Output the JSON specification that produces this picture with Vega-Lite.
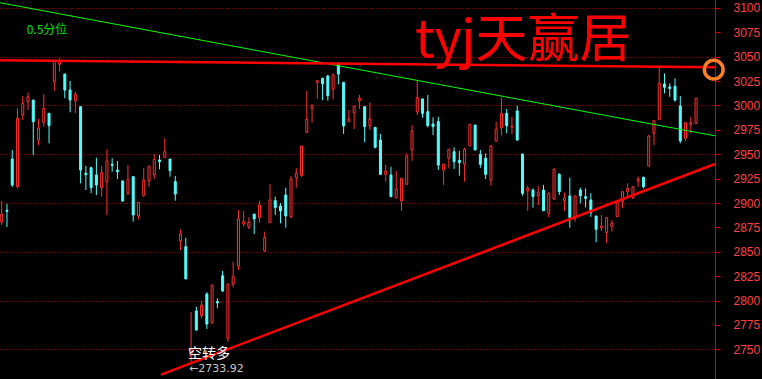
{
  "$schema": "https://vega.github.io/schema/vega-lite/v6.json",
  "width": 715,
  "height": 379,
  "autosize": {"type": "none"},
  "padding": {"left": 0, "top": 0, "right": 47, "bottom": 0},
  "background": "#000000",
  "config": {"view": {"stroke": null}},
  "resolve": {"axis": {"y": "independent"}},
  "datasets": {
    "k": [
      {"i":1,"o":2880.5,"h":2902.1,"l":2877.4,"c":2888.7},
      {"i":2,"o":2892.5,"h":2899.0,"l":2875.4,"c":2891.5},
      {"i":3,"o":2945.1,"h":2954.4,"l":2916.4,"c":2918.5},
      {"i":4,"o":2916.7,"h":2997.1,"l":2915.7,"c":2986.9},
      {"i":5,"o":2990.3,"h":3009.7,"l":2985.1,"c":3002.3},
      {"i":6,"o":3003.9,"h":3013.1,"l":2995.4,"c":3009.0},
      {"i":7,"o":3005.6,"h":3005.6,"l":2949.2,"c":2983.4},
      {"i":8,"o":2964.6,"h":2986.2,"l":2959.5,"c":2976.6},
      {"i":9,"o":2982.8,"h":3011.5,"l":2978.3,"c":2997.1},
      {"i":10,"o":2992.0,"h":2992.0,"l":2961.2,"c":2979.3},
      {"i":11,"o":3024.4,"h":3046.7,"l":3014.9,"c":3045.6},
      {"i":12,"o":3042.3,"h":3048.4,"l":3034.7,"c":3045.6},
      {"i":13,"o":3032.3,"h":3032.3,"l":3007.4,"c":3015.9},
      {"i":14,"o":3015.9,"h":3025.1,"l":2993.0,"c":3005.6},
      {"i":15,"o":3004.9,"h":3014.2,"l":2992.0,"c":3011.5},
      {"i":16,"o":2998.8,"h":2998.8,"l":2920.2,"c":2933.8},
      {"i":17,"o":2930.5,"h":2937.9,"l":2913.3,"c":2929.0},
      {"i":18,"o":2936.2,"h":2937.2,"l":2909.9,"c":2915.7},
      {"i":19,"o":2928.7,"h":2946.5,"l":2908.2,"c":2918.5},
      {"i":20,"o":2915.7,"h":2937.9,"l":2906.5,"c":2931.1},
      {"i":21,"o":2921.8,"h":2955.1,"l":2887.7,"c":2943.1},
      {"i":22,"o":2939.6,"h":2945.9,"l":2932.1,"c":2938.6},
      {"i":23,"o":2933.8,"h":2943.1,"l":2924.6,"c":2932.1},
      {"i":24,"o":2922.6,"h":2923.0,"l":2901.0,"c":2902.1},
      {"i":25,"o":2909.9,"h":2939.0,"l":2908.2,"c":2924.3},
      {"i":26,"o":2927.0,"h":2927.7,"l":2880.8,"c":2887.7},
      {"i":27,"o":2886.7,"h":2901.0,"l":2883.3,"c":2900.7},
      {"i":28,"o":2907.5,"h":2935.6,"l":2906.5,"c":2923.6},
      {"i":29,"o":2922.9,"h":2937.9,"l":2916.7,"c":2937.9},
      {"i":30,"o":2928.7,"h":2950.3,"l":2924.3,"c":2944.8},
      {"i":31,"o":2944.1,"h":2949.2,"l":2934.6,"c":2942.4},
      {"i":32,"o":2946.9,"h":2966.4,"l":2945.9,"c":2952.6},
      {"i":33,"o":2945.1,"h":2945.1,"l":2927.0,"c":2933.1},
      {"i":34,"o":2921.8,"h":2927.7,"l":2902.4,"c":2909.2},
      {"i":35,"o":2861.3,"h":2873.0,"l":2851.8,"c":2868.2},
      {"i":36,"o":2855.2,"h":2864.4,"l":2822.0,"c":2822.1},
      {"i":37,"o":2743.0,"h":2788.2,"l":2733.92,"c":2750.0},
      {"i":38,"o":2789.3,"h":2793.6,"l":2769.0,"c":2769.8},
      {"i":39,"o":2784.4,"h":2799.8,"l":2781.8,"c":2795.4},
      {"i":40,"o":2806.7,"h":2808.4,"l":2770.8,"c":2775.9},
      {"i":41,"o":2777.2,"h":2815.9,"l":2775.9,"c":2815.9},
      {"i":42,"o":2799.0,"h":2802.3,"l":2792.0,"c":2797.5},
      {"i":43,"o":2825.4,"h":2830.3,"l":2809.0,"c":2809.7},
      {"i":44,"o":2761.2,"h":2817.0,"l":2757.7,"c":2816.9},
      {"i":45,"o":2816.9,"h":2839.8,"l":2813.5,"c":2824.4},
      {"i":46,"o":2835.4,"h":2892.8,"l":2831.3,"c":2883.6},
      {"i":47,"o":2878.5,"h":2891.8,"l":2875.7,"c":2880.8},
      {"i":48,"o":2875.1,"h":2885.3,"l":2873.3,"c":2880.2},
      {"i":49,"o":2888.7,"h":2888.7,"l":2868.2,"c":2883.6},
      {"i":50,"o":2884.9,"h":2902.4,"l":2879.8,"c":2898.0},
      {"i":51,"o":2850.8,"h":2870.6,"l":2850.0,"c":2864.4},
      {"i":52,"o":2879.8,"h":2919.5,"l":2879.8,"c":2903.1},
      {"i":53,"o":2902.4,"h":2906.5,"l":2887.7,"c":2895.2},
      {"i":54,"o":2896.9,"h":2899.7,"l":2879.2,"c":2891.8},
      {"i":55,"o":2908.2,"h":2915.7,"l":2874.7,"c":2886.7},
      {"i":56,"o":2885.9,"h":2927.7,"l":2884.3,"c":2924.6},
      {"i":57,"o":2926.0,"h":2935.6,"l":2915.7,"c":2930.5},
      {"i":58,"o":2928.0,"h":2958.8,"l":2927.0,"c":2958.5},
      {"i":59,"o":2972.5,"h":3014.9,"l":2972.5,"c":2985.8},
      {"i":60,"o":2997.1,"h":3000.5,"l":2982.4,"c":3000.5},
      {"i":61,"o":3023.8,"h":3026.2,"l":3006.7,"c":3025.4},
      {"i":62,"o":3027.9,"h":3028.5,"l":3005.6,"c":3022.1},
      {"i":63,"o":3030.3,"h":3031.3,"l":3004.9,"c":3010.1},
      {"i":64,"o":3016.6,"h":3033.0,"l":3006.4,"c":3031.3},
      {"i":65,"o":3043.3,"h":3044.3,"l":3021.7,"c":3032.3},
      {"i":66,"o":3023.8,"h":3023.8,"l":2970.8,"c":2979.0},
      {"i":67,"o":2983.4,"h":2995.4,"l":2983.0,"c":2986.2},
      {"i":68,"o":2992.6,"h":2999.5,"l":2975.9,"c":2999.5},
      {"i":69,"o":3004.9,"h":3010.8,"l":2996.4,"c":3007.4},
      {"i":70,"o":2998.8,"h":2998.8,"l":2962.3,"c":2978.3},
      {"i":71,"o":2979.3,"h":3003.3,"l":2974.9,"c":2986.2},
      {"i":72,"o":2977.6,"h":2977.6,"l":2956.0,"c":2957.1},
      {"i":73,"o":2964.6,"h":2970.8,"l":2928.7,"c":2929.4},
      {"i":74,"o":2929.4,"h":2939.0,"l":2921.8,"c":2932.8},
      {"i":75,"o":2928.7,"h":2937.2,"l":2906.0,"c":2906.5},
      {"i":76,"o":2905.4,"h":2932.8,"l":2904.8,"c":2914.0},
      {"i":77,"o":2902.1,"h":2925.3,"l":2892.1,"c":2925.3},
      {"i":78,"o":2919.2,"h":2951.0,"l":2918.5,"c":2948.2},
      {"i":79,"o":2954.4,"h":2980.0,"l":2943.1,"c":2973.8},
      {"i":80,"o":2993.6,"h":3026.2,"l":2990.3,"c":3008.4},
      {"i":81,"o":3006.7,"h":3007.4,"l":2987.5,"c":2992.0},
      {"i":82,"o":2993.6,"h":3010.8,"l":2977.6,"c":2979.3},
      {"i":83,"o":2981.0,"h":2987.9,"l":2969.7,"c":2978.3},
      {"i":84,"o":2983.4,"h":2988.5,"l":2933.8,"c":2938.9},
      {"i":85,"o":2933.8,"h":2940.0,"l":2918.5,"c":2940.0},
      {"i":86,"o":2945.9,"h":2955.1,"l":2935.6,"c":2955.1},
      {"i":87,"o":2952.6,"h":2957.1,"l":2934.9,"c":2942.4},
      {"i":88,"o":2943.8,"h":2953.3,"l":2928.0,"c":2941.4},
      {"i":89,"o":2940.0,"h":2956.7,"l":2921.8,"c":2955.1},
      {"i":90,"o":2958.8,"h":2980.7,"l":2958.0,"c":2980.7},
      {"i":91,"o":2980.0,"h":2980.0,"l":2954.0,"c":2954.4},
      {"i":92,"o":2950.0,"h":2954.4,"l":2936.2,"c":2939.7},
      {"i":93,"o":2945.9,"h":2951.0,"l":2924.6,"c":2929.4},
      {"i":94,"o":2923.6,"h":2959.5,"l":2917.7,"c":2958.5},
      {"i":95,"o":2963.6,"h":2983.4,"l":2963.0,"c":2975.6},
      {"i":96,"o":2977.2,"h":3008.0,"l":2969.0,"c":2992.0},
      {"i":97,"o":2992.0,"h":2996.4,"l":2971.5,"c":2979.3},
      {"i":98,"o":2977.8,"h":2988.5,"l":2970.5,"c":2978.8},
      {"i":99,"o":2994.4,"h":2999.8,"l":2964.0,"c":2964.6},
      {"i":100,"o":2950.3,"h":2950.3,"l":2907.5,"c":2909.9},
      {"i":101,"o":2912.3,"h":2917.4,"l":2891.8,"c":2915.0},
      {"i":102,"o":2913.3,"h":2915.0,"l":2895.2,"c":2906.5},
      {"i":103,"o":2907.5,"h":2917.4,"l":2897.9,"c":2910.9},
      {"i":104,"o":2913.3,"h":2918.5,"l":2892.0,"c":2892.1},
      {"i":105,"o":2889.4,"h":2910.9,"l":2885.3,"c":2909.9},
      {"i":106,"o":2904.1,"h":2935.6,"l":2903.1,"c":2934.6},
      {"i":107,"o":2929.4,"h":2930.5,"l":2908.2,"c":2911.6},
      {"i":108,"o":2902.4,"h":2910.6,"l":2891.8,"c":2904.8},
      {"i":109,"o":2907.2,"h":2925.9,"l":2874.7,"c":2885.3},
      {"i":110,"o":2884.3,"h":2907.2,"l":2880.8,"c":2907.2},
      {"i":111,"o":2913.3,"h":2915.7,"l":2899.7,"c":2907.5},
      {"i":112,"o":2906.5,"h":2915.0,"l":2895.6,"c":2904.8},
      {"i":113,"o":2903.1,"h":2910.0,"l":2885.9,"c":2890.1},
      {"i":114,"o":2886.7,"h":2886.7,"l":2859.7,"c":2873.0},
      {"i":115,"o":2874.7,"h":2887.7,"l":2871.6,"c":2876.4},
      {"i":116,"o":2869.5,"h":2885.0,"l":2858.7,"c":2885.0},
      {"i":117,"o":2876.4,"h":2882.6,"l":2870.6,"c":2879.2},
      {"i":118,"o":2886.0,"h":2902.0,"l":2885.5,"c":2901.4},
      {"i":119,"o":2901.4,"h":2911.6,"l":2894.6,"c":2911.6},
      {"i":120,"o":2911.6,"h":2920.2,"l":2906.5,"c":2915.0},
      {"i":121,"o":2905.4,"h":2917.4,"l":2904.1,"c":2916.7},
      {"i":122,"o":2922.6,"h":2927.0,"l":2916.7,"c":2924.6},
      {"i":123,"o":2926.4,"h":2927.0,"l":2915.0,"c":2916.7},
      {"i":124,"o":2937.9,"h":2969.7,"l":2937.9,"c":2968.7},
      {"i":125,"o":2971.5,"h":2984.4,"l":2959.5,"c":2984.4},
      {"i":126,"o":2985.8,"h":3038.8,"l":2985.1,"c":3022.8},
      {"i":127,"o":3022.1,"h":3033.0,"l":3012.5,"c":3018.7},
      {"i":128,"o":3019.0,"h":3022.8,"l":3009.0,"c":3017.5},
      {"i":129,"o":3019.7,"h":3027.9,"l":3003.9,"c":3005.6},
      {"i":130,"o":2999.5,"h":3009.7,"l":2961.2,"c":2963.6},
      {"i":131,"o":2966.4,"h":2982.4,"l":2963.6,"c":2982.4},
      {"i":132,"o":2980.7,"h":2988.5,"l":2971.5,"c":2982.4},
      {"i":133,"o":2981.7,"h":3008.0,"l":2981.0,"c":3007.4}
    ],
    "lines": [
      {"k": "half", "i": 0.677, "v": 3105.4},
      {"k": "half", "i": 136.6, "v": 2968.9},
      {"k": "top", "i": 0.677, "v": 3046.4},
      {"k": "top", "i": 136.6, "v": 3039.2},
      {"k": "rise", "i": 31.29, "v": 2724.0},
      {"k": "rise", "i": 136.6, "v": 2940.0}
    ]
  },
  "encoding": {
    "x": {
      "field": "i",
      "type": "quantitative",
      "scale": {"domain": [0.677, 136.6], "nice": false, "zero": false, "padding": 0},
      "axis": null
    }
  },
  "layer": [
    {
      "data": {"name": "k"},
      "mark": {"type": "rule", "strokeWidth": 1},
      "encoding": {
        "y": {
          "field": "l",
          "type": "quantitative",
          "title": null,
          "scale": {"domain": [2719.5, 3108.2], "nice": false, "zero": false},
          "axis": {
            "orient": "right",
            "title": null,
            "values": [2750, 2775, 2800, 2825, 2850, 2875, 2900, 2925, 2950, 2975, 3000, 3025, 3050, 3075, 3100],
            "format": "d",
            "labelOverlap": false,
            "labelBound": false,
            "grid": true,
            "gridDash": [1, 2],
            "gridColor": "#c00000",
            "gridWidth": 1,
            "gridOpacity": {"condition": {"test": "datum.value % 50 === 0", "value": 1}, "value": 0},
            "domainColor": "#d80000",
            "domainWidth": 1,
            "tickColor": "#d80000",
            "tickSize": 5,
            "labelColor": "#ff4040",
            "labelFont": "Liberation Sans",
            "labelFontSize": 12,
            "labelPadding": 13,
            "labelAlign": "left",
            "labelBaseline": "middle"
          }
        },
        "y2": {"field": "h"},
        "color": {"condition": {"test": "datum.c >= datum.o", "value": "#ff3030"}, "value": "#54fcfc"}
      }
    },
    {
      "data": {"name": "k"},
      "mark": {"type": "bar", "width": 2, "strokeWidth": 1},
      "encoding": {
        "y": {"field": "o", "type": "quantitative", "axis": null},
        "y2": {"field": "c"},
        "fill": {"condition": {"test": "datum.c >= datum.o", "value": "#000000"}, "value": "#54fcfc"},
        "stroke": {"condition": {"test": "datum.c >= datum.o", "value": "#ff3030"}, "value": "#54fcfc"}
      }
    },
    {
      "data": {"name": "lines"},
      "transform": [{"filter": "datum.k === 'half'"}],
      "mark": {"type": "line", "color": "#00ff00", "strokeWidth": 1},
      "encoding": {"y": {"field": "v", "type": "quantitative", "axis": null}}
    },
    {
      "data": {"name": "lines"},
      "transform": [{"filter": "datum.k === 'top'"}],
      "mark": {"type": "line", "color": "#ff0000", "strokeWidth": 2.5},
      "encoding": {"y": {"field": "v", "type": "quantitative", "axis": null}}
    },
    {
      "data": {"name": "lines"},
      "transform": [{"filter": "datum.k === 'rise'"}],
      "mark": {"type": "line", "color": "#ff0000", "strokeWidth": 2.5},
      "encoding": {"y": {"field": "v", "type": "quantitative", "axis": null}}
    },
    {
      "data": {"values": [{"i": 136.36, "v": 3036.7}]},
      "mark": {"type": "point", "shape": "circle", "size": 350, "filled": false, "stroke": "#ff7f27", "strokeWidth": 3.5, "opacity": 1},
      "encoding": {"y": {"field": "v", "type": "quantitative", "axis": null}}
    },
    {
      "data": {"values": [{"i": 79.57, "v": 3049.7, "t": "tyj天赢居"}]},
      "mark": {"type": "text", "align": "left", "baseline": "alphabetic", "font": "Noto Sans CJK SC", "fontSize": 52, "color": "#ff0000"},
      "encoding": {"y": {"field": "v", "type": "quantitative", "axis": null}, "text": {"field": "t"}}
    },
    {
      "data": {"values": [{"i": 5.75, "v": 3073.3, "t": "0.5分位"}]},
      "mark": {"type": "text", "align": "left", "baseline": "alphabetic", "font": "Noto Sans CJK SC", "fontSize": 12, "color": "#00e000"},
      "encoding": {"y": {"field": "v", "type": "quantitative", "axis": null}, "text": {"field": "t"}}
    },
    {
      "data": {"values": [{"i": 36.42, "v": 2741.2, "t": "空转多"}]},
      "mark": {"type": "text", "align": "left", "baseline": "alphabetic", "font": "Noto Sans CJK SC", "fontSize": 14, "color": "#ffffff"},
      "encoding": {"y": {"field": "v", "type": "quantitative", "axis": null}, "text": {"field": "t"}}
    },
    {
      "data": {"values": [{"i": 36.6, "v": 2726.8, "t": "←2733.92"}]},
      "mark": {"type": "text", "align": "left", "baseline": "alphabetic", "font": "DejaVu Sans", "fontSize": 11, "color": "#c8c8c8"},
      "encoding": {"y": {"field": "v", "type": "quantitative", "axis": null}, "text": {"field": "t"}}
    }
  ]
}
